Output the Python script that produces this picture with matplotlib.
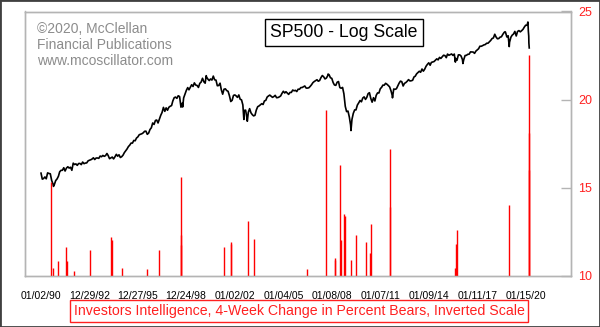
import matplotlib
matplotlib.use("Agg")
import matplotlib.pyplot as plt
import pandas as pd
from matplotlib.patches import Rectangle

plt.rcParams['font.family'] = ['Liberation Sans', 'DejaVu Sans']

# S&P 500 month-end closes, Jan 1990 .. Feb 2020
sp500_monthly = [
    329.1, 331.9, 339.9, 330.8, 361.2, 358.0, 356.2, 322.6, 306.1, 304.0, 322.2, 330.2,
    343.9, 367.1, 375.2, 375.3, 389.8, 371.2, 387.8, 395.4, 387.9, 392.5, 375.2, 417.1,
    408.8, 412.7, 403.7, 414.9, 415.4, 408.1, 424.2, 414.0, 417.8, 418.7, 431.4, 435.7,
    438.8, 443.4, 451.7, 440.2, 450.2, 450.5, 448.1, 463.6, 458.9, 467.8, 461.8, 466.5,
    481.6, 467.1, 445.8, 451.0, 456.5, 444.3, 458.3, 475.5, 462.7, 472.4, 453.7, 459.3,
    470.4, 487.4, 500.7, 514.7, 533.4, 544.8, 562.1, 561.9, 584.4, 581.5, 605.4, 615.9,
    636.0, 640.4, 645.5, 654.2, 669.1, 670.6, 639.9, 652.0, 687.3, 705.3, 757.0, 740.7,
    786.2, 790.8, 757.1, 801.3, 848.3, 885.1, 954.3, 899.5, 947.3, 914.6, 955.4, 970.4,
    980.3, 1049.3, 1101.8, 1111.8, 1090.8, 1133.8, 1120.7, 957.3, 1017.0, 1098.7, 1163.6, 1229.2,
    1279.6, 1238.3, 1286.4, 1335.2, 1301.8, 1372.7, 1328.7, 1320.4, 1282.7, 1362.9, 1388.9, 1469.3,
    1394.5, 1366.4, 1498.6, 1452.4, 1420.6, 1454.6, 1430.8, 1517.7, 1436.5, 1429.4, 1315.2, 1320.3,
    1366.0, 1239.9, 1160.3, 1249.5, 1255.8, 1224.4, 1211.2, 1133.6, 1040.9, 1059.8, 1139.5, 1148.1,
    1130.2, 1106.7, 1147.4, 1076.9, 1067.1, 989.8, 911.6, 916.1, 815.3, 885.8, 936.3, 879.8,
    855.7, 841.2, 848.2, 916.9, 963.6, 974.5, 990.3, 1008.0, 996.0, 1050.7, 1058.2, 1111.9,
    1131.1, 1144.9, 1126.2, 1107.3, 1120.7, 1140.8, 1101.7, 1104.2, 1114.6, 1130.2, 1173.8, 1211.9,
    1181.3, 1203.6, 1180.6, 1156.9, 1191.5, 1191.3, 1234.2, 1220.3, 1228.8, 1207.0, 1249.5, 1248.3,
    1280.1, 1280.7, 1294.9, 1310.6, 1270.1, 1270.2, 1276.7, 1303.8, 1335.9, 1377.9, 1400.6, 1418.3,
    1438.2, 1406.8, 1420.9, 1482.4, 1530.6, 1503.4, 1455.3, 1474.0, 1526.8, 1549.4, 1481.1, 1468.4,
    1378.6, 1330.6, 1322.7, 1385.6, 1400.4, 1280.0, 1267.4, 1282.8, 1166.4, 968.8, 896.2, 903.3,
    825.9, 735.1, 797.9, 872.8, 919.1, 919.3, 987.5, 1020.6, 1057.1, 1036.2, 1095.6, 1115.1,
    1073.9, 1104.5, 1169.4, 1186.7, 1089.4, 1030.7, 1101.6, 1049.3, 1141.2, 1183.3, 1180.6, 1257.6,
    1286.1, 1327.2, 1325.8, 1363.6, 1345.2, 1320.6, 1292.3, 1218.9, 1131.4, 1253.3, 1247.0, 1257.6,
    1312.4, 1365.7, 1408.5, 1397.9, 1310.3, 1362.2, 1379.3, 1406.6, 1440.7, 1412.2, 1416.2, 1426.2,
    1498.1, 1514.7, 1569.2, 1597.6, 1630.7, 1606.3, 1685.7, 1633.0, 1681.6, 1756.5, 1805.8, 1848.4,
    1782.6, 1859.5, 1872.3, 1883.9, 1923.6, 1960.2, 1930.7, 2003.4, 1972.3, 2018.1, 2067.6, 2058.9,
    1995.0, 2104.5, 2067.9, 2085.5, 2107.4, 2063.1, 2103.8, 1972.2, 1920.0, 2079.4, 2080.4, 2043.9,
    1940.2, 1932.2, 2059.7, 2065.3, 2097.0, 2098.9, 2173.6, 2171.0, 2168.3, 2126.2, 2199.0, 2238.8,
    2278.9, 2363.6, 2362.7, 2384.2, 2411.8, 2423.4, 2470.3, 2471.7, 2519.4, 2575.3, 2647.6, 2673.6,
    2823.8, 2713.8, 2640.9, 2648.1, 2705.3, 2718.4, 2816.3, 2901.5, 2914.0, 2711.7, 2760.2, 2506.9,
    2704.1, 2784.5, 2834.4, 2945.8, 2752.1, 2941.8, 2980.4, 2926.5, 2976.7, 3037.6, 3141.0, 3230.8,
    3225.5, 2954.2,
]

# intra-month highs / lows and the last days of the series
sp500_extra_dates = [
    "1990-01-02", "1990-10-11", "1998-10-08", "2000-03-24", "2002-07-23", "2002-10-09",
    "2007-10-09", "2009-03-09", "2011-10-03", "2015-08-25", "2016-02-11", "2018-09-20",
    "2018-12-24", "2020-02-19", "2020-03-09", "2020-03-12", "2020-03-16", "2020-03-20",
]
sp500_extra = [
    359.7, 295.5, 959.4, 1527.5, 797.7, 776.8,
    1565.2, 676.5, 1099.2, 1867.6, 1829.1, 2930.8,
    2351.1, 3386.2, 2746.6, 2480.6, 2386.1, 2304.9,
]

# Investors Intelligence 4-week change in % bears (inverted), spikes above 10
bears_dates = [
    "1990-08-10", "1990-09-21", "1991-01-25", "1991-07-26", "1991-08-23", "1992-01-10",
    "1993-01-15", "1994-05-13", "1994-06-03", "1994-12-30", "1996-07-26", "1997-04-25",
    "1998-08-28", "1998-09-04", "1998-09-11", "2001-04-27", "2001-09-28", "2001-10-05",
    "2002-10-25", "2003-03-14", "2006-06-23", "2007-08-17", "2008-03-07", "2008-03-14",
    "2008-07-11", "2008-07-25", "2008-10-10", "2008-10-17", "2009-03-13", "2009-07-03",
    "2010-02-12", "2010-05-14", "2010-06-04", "2011-08-12", "2011-08-19", "2015-08-21",
    "2015-08-28", "2015-10-02", "2018-12-28", "2020-03-06", "2020-03-13", "2020-03-20",
]
bears_vals = [
    15.3, 10.45, 10.8, 11.6, 10.8, 10.25,
    11.45, 12.2, 12.0, 10.45, 10.35, 11.45,
    11.75, 15.6, 12.3, 11.6, 11.9, 11.8,
    13.1, 12.1, 10.35, 19.4, 11.0, 10.9,
    16.3, 12.0, 13.5, 13.4, 10.9, 12.3,
    11.9, 11.25, 12.9, 13.9, 17.2, 10.45,
    11.8, 12.6, 14.0, 18.1, 22.5, 16.0,
]

tick_dates = ["1990-01-02", "1992-12-29", "1995-12-27", "1998-12-24", "2002-01-02",
              "2005-01-04", "2008-01-08", "2011-01-07", "2014-01-09", "2017-01-11",
              "2020-01-15"]
tick_labels = ["01/02/90", "12/29/92", "12/27/95", "12/24/98", "01/02/02", "01/04/05",
               "01/08/08", "01/07/11", "01/09/14", "01/11/17", "01/15/20"]
right_ticks = [10, 15, 20, 25]

monthly = pd.Series(sp500_monthly,
                    index=pd.date_range("1990-01-31", periods=len(sp500_monthly), freq="ME"))
extra = pd.Series(sp500_extra, index=pd.to_datetime(sp500_extra_dates))
sp500 = pd.concat([monthly, extra]).sort_index()

fig = plt.figure(figsize=(6, 3.27), dpi=100)
ax = fig.add_axes([25 / 600, 1 - 275.5 / 327, 546 / 600, 264 / 327])
ax2 = ax.twinx()

# price on a hidden log axis
ax.plot(sp500.index, sp500.values, color='black', lw=1.2)
ax.set_yscale('log')
ax.set_ylim(78.8, 3957)
ax.set_yticks([])
ax.yaxis.set_minor_locator(matplotlib.ticker.NullLocator())

# sentiment spikes on the right-hand scale
ax2.vlines(pd.to_datetime(bears_dates), 10, bears_vals, color='#ff0000', lw=1.0)
ax2.set_ylim(10, 25)
ax2.set_yticks(right_ticks)
ax2.tick_params(axis='y', direction='in', length=7, width=1, color='#b4b4b4',
                labelcolor='#ff2020', labelsize=9, pad=5)

ax.set_xlim(pd.Timestamp("1989-01-05"), pd.Timestamp("2022-10-20"))
ax.set_xticks(pd.to_datetime(tick_dates))
ax.set_xticklabels(tick_labels)
ax.tick_params(axis='x', length=0, labelsize=7.5, pad=11)

for a in (ax, ax2):
    for sp in a.spines.values():
        sp.set_color('#b4b4b4')
        sp.set_linewidth(1)

fig.text(36.7 / 600, 1 - 22 / 327,
         "©2020, McClellan\nFinancial Publications\nwww.mcoscillator.com",
         fontsize=10, color='#8c8c8c', va='top', ha='left', linespacing=1.2)

fig.text(344 / 600, 1 - 32.5 / 327, "SP500 - Log Scale", fontsize=12.7,
         ha='center', va='center',
         bbox=dict(boxstyle='square,pad=0.3', fc='white', ec='black', lw=1))

fig.text(299 / 600, 1 - 311 / 327,
         "Investors Intelligence, 4-Week Change in Percent Bears, Inverted Scale",
         fontsize=10.2, color='#ff2020', ha='center', va='center',
         bbox=dict(boxstyle='square,pad=0.25', fc='white', ec='#ff2020', lw=1))

fig.patches.append(Rectangle((0, 0), 1, 1, transform=fig.transFigure, fill=False,
                             ec='#404040', lw=2))

fig.savefig("out.png", dpi=100)
